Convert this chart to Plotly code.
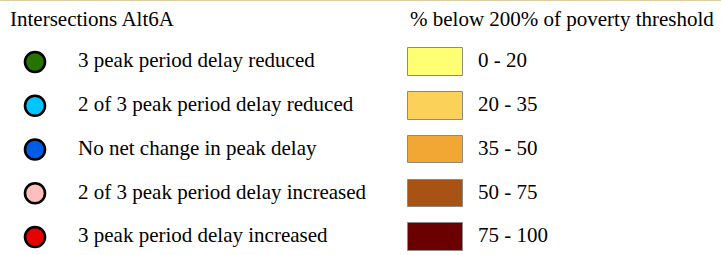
import plotly.graph_objects as go

# ---- data ----
intersection_title = "Intersections Alt6A"
intersection_labels = [
    "3 peak period delay reduced",
    "2 of 3 peak period delay reduced",
    "No net change in peak delay",
    "2 of 3 peak period delay increased",
    "3 peak period delay increased",
]
intersection_colors = ["#267300", "#00c5ff", "#005ce6", "#ffbebe", "#e60000"]

poverty_title = "% below 200% of poverty threshold"
poverty_labels = ["0 - 20", "20 - 35", "35 - 50", "50 - 75", "75 - 100"]
poverty_colors = ["#ffff73", "#fcd15a", "#f2a735", "#a85314", "#6b0000"]

# ---- layout helpers (pixel-like data space) ----
W, H = 721, 255
row_y = [62 + 43.75 * i for i in range(len(intersection_labels))]
FONT = "Liberation Serif, 'Times New Roman', Times, serif"
FS = 21

fig = go.Figure()

# intersection circles
fig.add_trace(go.Scatter(
    x=[35] * len(intersection_labels), y=row_y, mode="markers",
    marker=dict(size=20, color=intersection_colors,
                line=dict(color="black", width=2.6)),
    hoverinfo="skip", showlegend=False))

# intersection labels
fig.add_trace(go.Scatter(
    x=[78] * len(intersection_labels), y=row_y, mode="text",
    text=intersection_labels, textposition="middle right",
    textfont=dict(family=FONT, size=FS, color="black"),
    hoverinfo="skip", showlegend=False))

# poverty rectangles as horizontal bars
fig.add_trace(go.Bar(
    y=row_y, x=[55] * len(poverty_labels), base=[408] * len(poverty_labels),
    orientation="h", width=[27.5] * len(poverty_labels),
    marker=dict(color=poverty_colors, line=dict(color="#8a8a8a", width=1)),
    hoverinfo="skip", showlegend=False))

# poverty labels
fig.add_trace(go.Scatter(
    x=[478] * len(poverty_labels), y=row_y, mode="text",
    text=poverty_labels, textposition="middle right",
    textfont=dict(family=FONT, size=FS, color="black"),
    hoverinfo="skip", showlegend=False))

# titles
fig.add_trace(go.Scatter(
    x=[10, 410], y=[21, 21], mode="text",
    text=[intersection_title, poverty_title], textposition="middle right",
    textfont=dict(family=FONT, size=FS, color="black"),
    hoverinfo="skip", showlegend=False))

# thin beige rule at top edge
fig.add_shape(type="line", xref="paper", yref="paper", x0=0, x1=1, y0=1, y1=1,
              line=dict(color="#dccda5", width=2))

fig.update_layout(
    width=W, height=H, margin=dict(l=0, r=0, t=0, b=0),
    paper_bgcolor="white", plot_bgcolor="white",
    font=dict(family=FONT),
    xaxis=dict(range=[0, W], visible=False, fixedrange=True),
    yaxis=dict(range=[H, 0], visible=False, fixedrange=True),
    bargap=0,
)

fig.write_html("out.html", config={"displayModeBar": False},
               post_script="document.body.style.margin='0';document.body.style.overflow='hidden';")
